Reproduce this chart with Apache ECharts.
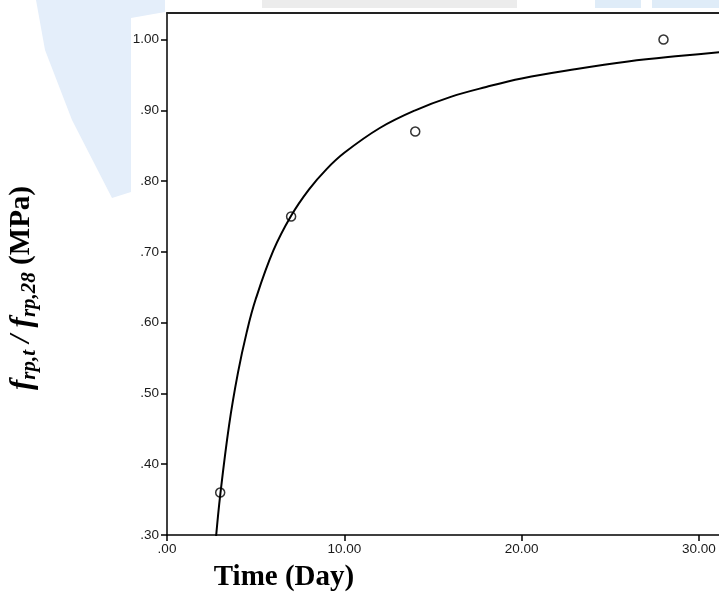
<!DOCTYPE html>
<html>
<head>
<meta charset="utf-8">
<script src="https://cdn.jsdelivr.net/npm/echarts@6/dist/echarts.min.js"></script>
<style>
html,body{margin:0;padding:0;background:#fff;}
#chart{width:719px;height:593px;}
</style>
</head>
<body>
<div id="chart"></div>
<script>
// Observed data points
const days = [3, 7, 14, 28];
const ratios = [0.36, 0.75, 0.87, 1.00];

// Fitted curve, values
const curveDays = [2.75, 3, 3.5, 4, 4.5, 5, 6, 7, 8, 9, 10, 12, 14, 16, 18, 20, 23, 26, 29, 32];
const curveRatios = [0.293, 0.356, 0.455, 0.529, 0.587, 0.633, 0.702, 0.751, 0.788, 0.817, 0.840, 0.875, 0.900, 0.919, 0.933, 0.945, 0.958, 0.969, 0.977, 0.984];

// Tick labels
const xTicks = [0, 10, 20, 30];
const yTicks = [0.3, 0.4, 0.5, 0.6, 0.7, 0.8, 0.9, 1.0];

const fmt = v => Number(v).toFixed(2).replace(/^0\./, '.');

const chart = echarts.init(document.getElementById('chart'), null, {renderer: 'canvas'});
const labelFont = {color: '#1a1a1a', fontFamily: 'Liberation Sans, Arial, sans-serif', fontSize: 13.5};

chart.setOption({
  animation: false,
  backgroundColor: '#ffffff',
  grid: {left: 167, right: 0, top: 13, bottom: 58, containLabel: false},
  xAxis: [{
    type: 'value', min: 0, max: 31.13, position: 'bottom',
    axisLine: {show: true, onZero: false, lineStyle: {color: '#000', width: 1.5}},
    axisTick: {show: true, length: 6, inside: false, customValues: xTicks, lineStyle: {color: '#000', width: 1.5}},
    axisLabel: Object.assign({show: true, margin: 7, customValues: xTicks, formatter: fmt}, labelFont),
    splitLine: {show: false}
  }, {
    type: 'value', min: 0, max: 31.13, position: 'top',
    axisLine: {show: true, onZero: false, lineStyle: {color: '#222', width: 2}},
    axisTick: {show: false}, axisLabel: {show: false}, splitLine: {show: false}
  }],
  yAxis: {
    type: 'value', min: 0.3, max: 1.0375,
    axisLine: {show: true, onZero: false, lineStyle: {color: '#000', width: 1.5}},
    axisTick: {show: true, length: 6, customValues: yTicks, lineStyle: {color: '#000', width: 1.5}},
    axisLabel: Object.assign({show: true, margin: 8, customValues: yTicks, formatter: fmt}, labelFont),
    splitLine: {show: false}
  },
  graphic: [
    {type: 'polygon', z: 0, silent: true,
     shape: {points: [[36,0],[165,0],[165,12],[131,18],[131,192],[112,198],[72,120],[45,50]]},
     style: {fill: '#e4eefa'}},
    {type: 'rect', z: 0, silent: true, shape: {x: 262, y: 0, width: 255, height: 8}, style: {fill: '#ececec'}},
    {type: 'rect', z: 0, silent: true, shape: {x: 595, y: 0, width: 46, height: 8}, style: {fill: '#dfecf8'}},
    {type: 'rect', z: 0, silent: true, shape: {x: 652, y: 0, width: 67, height: 8}, style: {fill: '#dfecf8'}},
    {type: 'text', x: 284, y: 578,
     style: {text: 'Time (Day)', fontFamily: 'Liberation Serif, Times New Roman, serif', fontWeight: 'bold', fontSize: 29,
             fill: '#000', align: 'center', verticalAlign: 'middle'}},
    {type: 'text', x: 24, y: 288, rotation: Math.PI / 2,
     style: {
       text: '{f|f}{s|rp,t}{n| / }{f|f}{s|rp,28}{b| (MPa)}',
       align: 'center', verticalAlign: 'middle', fill: '#000',
       rich: {
         f: {fontFamily: 'Liberation Serif, serif', fontStyle: 'italic', fontWeight: 'bold', fontSize: 31, lineHeight: 33, verticalAlign: 'top', fill: '#000'},
         s: {fontFamily: 'Liberation Serif, serif', fontStyle: 'italic', fontWeight: 'bold', fontSize: 21, lineHeight: 21, verticalAlign: 'bottom', fill: '#000'},
         n: {fontFamily: 'Liberation Serif, serif', fontStyle: 'italic', fontWeight: 'bold', fontSize: 29, lineHeight: 33, verticalAlign: 'top', fill: '#000'},
         b: {fontFamily: 'Liberation Serif, serif', fontWeight: 'bold', fontSize: 29, lineHeight: 33, verticalAlign: 'top', fill: '#000'}
       }
     }}
  ],
  series: [{
    type: 'line', xAxisIndex: 0,
    data: curveDays.map((d, i) => [d, curveRatios[i]]),
    smooth: 0.4, showSymbol: false, symbol: 'none', clip: true,
    lineStyle: {color: '#000', width: 2}, z: 3
  }, {
    type: 'scatter', xAxisIndex: 0,
    data: days.map((d, i) => [d, ratios[i]]),
    symbol: 'circle', symbolSize: 9,
    itemStyle: {color: 'rgba(255,255,255,0)', borderColor: '#000', borderWidth: 1.5}, z: 4
  }]
});
</script>
</body>
</html>
